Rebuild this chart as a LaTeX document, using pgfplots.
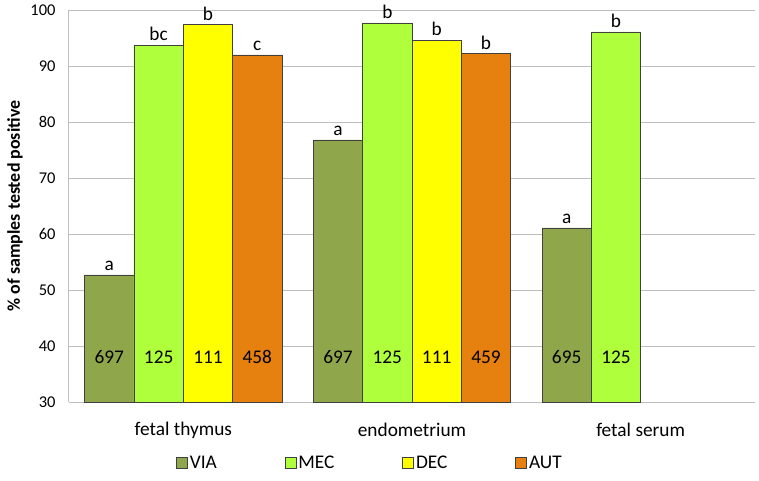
\documentclass[border=0pt]{standalone}
\usepackage{pgfplots}
\pgfplotsset{compat=1.18}
\usepackage{fontspec}
\setmainfont{Carlito}
\definecolor{via}{HTML}{8FA64A}
\definecolor{mec}{HTML}{B0FF3C}
\definecolor{dec}{HTML}{FFFF00}
\definecolor{aut}{HTML}{E6800F}
\definecolor{gridc}{HTML}{BEBEBE}
\begin{document}
\begin{tikzpicture}
\path[use as bounding box] (-69bp,-79bp) rectangle (690bp,392bp+10bp);
\begin{axis}[
  at={(0,0)}, anchor=south west,
  scale only axis, width=686bp, height=392bp,
  xmin=-0.5, xmax=2.5, ymin=30, ymax=100,
  xtick={0,1,2}, xticklabels={fetal thymus, endometrium, fetal serum},
  ytick={30,40,...,100},
  axis x line*=bottom, axis y line*=left,
  axis line style={gridc, line width=1bp},
  ymajorgrids, grid style={gridc, line width=1bp},
  major tick length=0pt,
  tick style={draw=none},
  /pgf/number format/assume math mode=true,
  yticklabel style={font=\fontsize{16.5}{18}\selectfont, xshift=-10bp},
  xticklabel style={font=\fontsize{19.4}{22}\selectfont, anchor=center, yshift=-28bp},
  ylabel={\bfseries\% of samples tested positive},
  every axis y label/.style={at={(-54bp,196bp)}, rotate=90, anchor=center, font=\fontsize{18}{20}\selectfont},
  bar width=49.33bp,
  legend columns=4,
  legend style={draw=none, at={(301bp,-61bp)}, anchor=center, font=\fontsize{19.4}{22}\selectfont,
    column sep=0bp,
    /tikz/column 2/.style={column sep=66bp},
    /tikz/column 4/.style={column sep=66bp},
    /tikz/column 6/.style={column sep=66bp}},
  legend cell align=left,
]
\pgfplotsset{
  every node near coord/.append style={anchor=base, yshift=4.5bp, inner sep=0pt, font=\fontsize{19.4}{22}\selectfont},
  sq/.style={legend image code/.code={\draw[##1, draw=black!75, line width=0.6bp] (0bp,-5.5bp) rectangle (11bp,5.5bp);}},
}
\addplot[ybar, bar shift=-74bp, fill=via, draw=black!75, line width=0.6bp, sq, nodes near coords, point meta=explicit symbolic,
  every node near coord/.append style={xshift=-74bp}]
  coordinates {(0,52.7)[a] (1,76.8)[a] (2,61.1)[a]};
\addlegendentry{VIA}
\addplot[ybar, bar shift=-24.67bp, fill=mec, draw=black!75, line width=0.6bp, sq, nodes near coords, point meta=explicit symbolic,
  every node near coord/.append style={xshift=-24.67bp}]
  coordinates {(0,93.7)[bc] (1,97.7)[b] (2,96.1)[b]};
\addlegendentry{MEC}
\addplot[ybar, bar shift=24.67bp, fill=dec, draw=black!75, line width=0.6bp, sq, nodes near coords, point meta=explicit symbolic,
  every node near coord/.append style={xshift=24.67bp}]
  coordinates {(0,97.4)[b] (1,94.6)[b]};
\addlegendentry{DEC}
\addplot[ybar, bar shift=74bp, fill=aut, draw=black!75, line width=0.6bp, sq, nodes near coords, point meta=explicit symbolic,
  every node near coord/.append style={xshift=74bp}]
  coordinates {(0,92.0)[c] (1,92.2)[b]};
\addlegendentry{AUT}
% sample counts inside bars
\addplot[only marks, mark=none, forget plot, nodes near coords, point meta=explicit symbolic,
  every node near coord/.append style={xshift=-74bp, yshift=-4.5bp}]
  coordinates {(0,36.85)[697] (1,36.85)[697] (2,36.85)[695]};
\addplot[only marks, mark=none, forget plot, nodes near coords, point meta=explicit symbolic,
  every node near coord/.append style={xshift=-24.67bp, yshift=-4.5bp}]
  coordinates {(0,36.85)[125] (1,36.85)[125] (2,36.85)[125]};
\addplot[only marks, mark=none, forget plot, nodes near coords, point meta=explicit symbolic,
  every node near coord/.append style={xshift=24.67bp, yshift=-4.5bp}]
  coordinates {(0,36.85)[111] (1,36.85)[111]};
\addplot[only marks, mark=none, forget plot, nodes near coords, point meta=explicit symbolic,
  every node near coord/.append style={xshift=74bp, yshift=-4.5bp}]
  coordinates {(0,36.85)[458] (1,36.85)[459]};
\end{axis}
\end{tikzpicture}
\end{document}
